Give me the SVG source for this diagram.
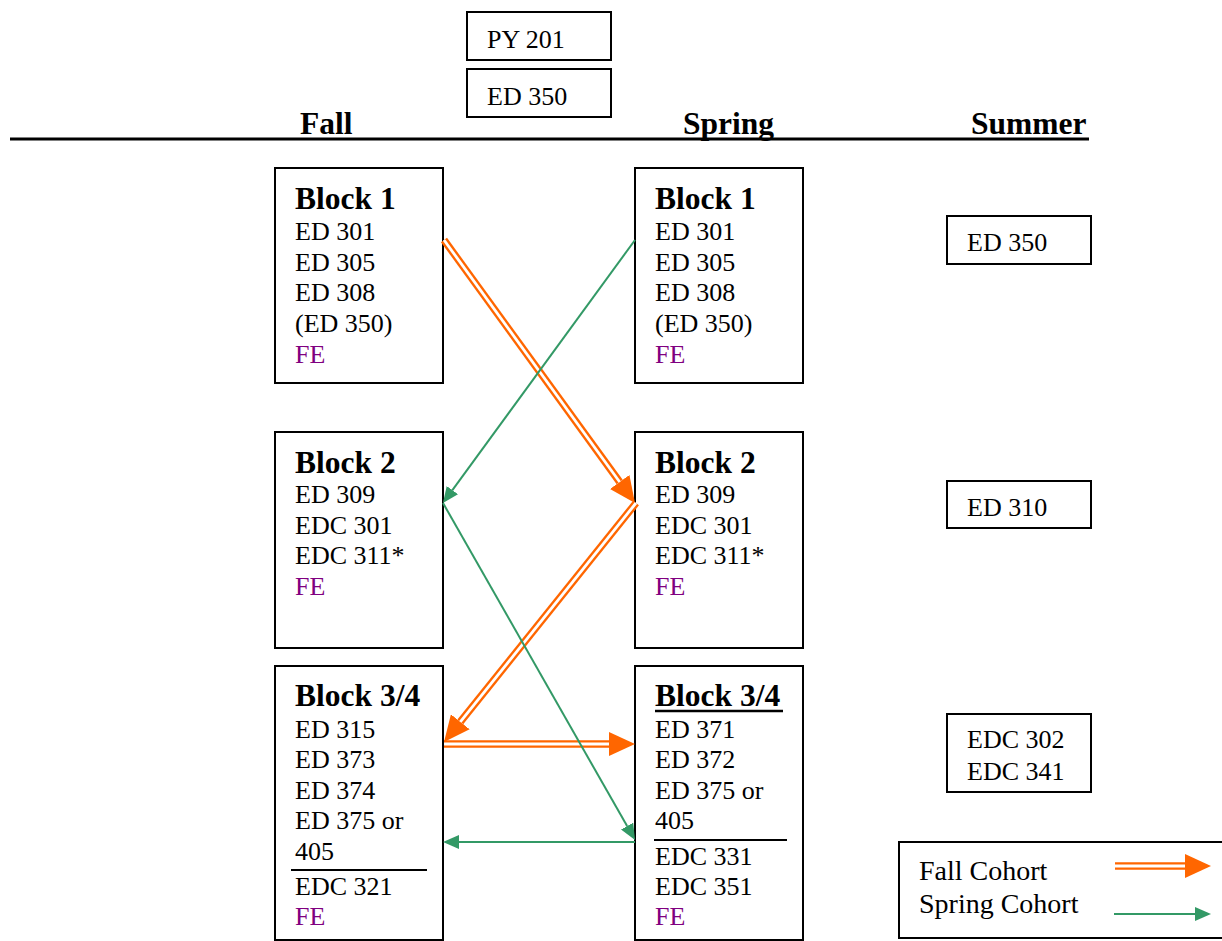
<svg xmlns="http://www.w3.org/2000/svg" width="1222" height="941" viewBox="0 0 1222 941">
<style>
text{font-family:"Liberation Serif","Times New Roman",serif;fill:#000}
.b{font-size:26px}
.h{font-size:31.5px;font-weight:bold}
.fe{fill:#800080}
.lg{font-size:28px}
.box{fill:#fff;stroke:#000;stroke-width:2}
.sep{stroke:#000;stroke-width:2}
.or{stroke:#FF6600;stroke-width:7.5;fill:none}
.wi{stroke:#fff;stroke-width:2.8;fill:none}
.gr{stroke:#339966;stroke-width:2;fill:none}
</style>
<defs>
<marker id="oh" markerUnits="userSpaceOnUse" markerWidth="26" markerHeight="24" viewBox="0 0 26 24" refX="0" refY="12" orient="auto"><path d="M0,0 L26,12 L0,24 z" fill="#FF6600"/></marker>
<marker id="gh" markerUnits="userSpaceOnUse" markerWidth="16" markerHeight="14" viewBox="0 0 16 14" refX="0" refY="7" orient="auto"><path d="M0,0 L16,7 L0,14 z" fill="#339966"/></marker>
</defs>
<rect width="1222" height="941" fill="#fff"/>

<g id="py201"><rect class="box" x="467" y="12" width="144" height="48"/><text class="b" x="487" y="48">PY 201</text></g>
<g id="ed350top"><rect class="box" x="467" y="69" width="144" height="48"/><text class="b" x="487" y="105">ED 350</text></g>

<g id="header">
<line x1="10" y1="139" x2="1089" y2="139" stroke="#000" stroke-width="3.2"/>
<text class="h" x="300" y="134">Fall</text>
<text class="h" x="683" y="134">Spring</text>
<text class="h" x="971" y="134">Summer</text>
</g>

<g id="fall1"><rect class="box" x="275" y="168" width="168" height="215"/>
<text class="h" x="295" y="209">Block 1</text>
<text class="b" x="295" y="240">ED 301</text>
<text class="b" x="295" y="271">ED 305</text>
<text class="b" x="295" y="301">ED 308</text>
<text class="b" x="295" y="332">(ED 350)</text>
<text class="b fe" x="295" y="363">FE</text></g>

<g id="spring1"><rect class="box" x="635" y="168" width="168" height="215"/>
<text class="h" x="655" y="209">Block 1</text>
<text class="b" x="655" y="240">ED 301</text>
<text class="b" x="655" y="271">ED 305</text>
<text class="b" x="655" y="301">ED 308</text>
<text class="b" x="655" y="332">(ED 350)</text>
<text class="b fe" x="655" y="363">FE</text></g>

<g id="fall2"><rect class="box" x="275" y="432" width="168" height="216"/>
<text class="h" x="295" y="473">Block 2</text>
<text class="b" x="295" y="503">ED 309</text>
<text class="b" x="295" y="534">EDC 301</text>
<text class="b" x="295" y="564">EDC 311*</text>
<text class="b fe" x="295" y="595">FE</text></g>

<g id="spring2"><rect class="box" x="635" y="432" width="168" height="216"/>
<text class="h" x="655" y="473">Block 2</text>
<text class="b" x="655" y="503">ED 309</text>
<text class="b" x="655" y="534">EDC 301</text>
<text class="b" x="655" y="564">EDC 311*</text>
<text class="b fe" x="655" y="595">FE</text></g>

<g id="fall34"><rect class="box" x="275" y="666" width="168" height="274"/>
<text class="h" x="295" y="706">Block 3/4</text>
<text class="b" x="295" y="738">ED 315</text>
<text class="b" x="295" y="768">ED 373</text>
<text class="b" x="295" y="799">ED 374</text>
<text class="b" x="295" y="829">ED 375 or</text>
<text class="b" x="295" y="860">405</text>
<line class="sep" x1="291" y1="870" x2="427" y2="870"/>
<text class="b" x="295" y="895">EDC 321</text>
<text class="b fe" x="295" y="925">FE</text></g>

<g id="spring34"><rect class="box" x="635" y="666" width="168" height="274"/>
<text class="h" x="655" y="706">Block 3/4</text>
<line x1="655" y1="711" x2="783" y2="711" stroke="#000" stroke-width="2.7"/>
<text class="b" x="655" y="738">ED 371</text>
<text class="b" x="655" y="768">ED 372</text>
<text class="b" x="655" y="799">ED 375 or</text>
<text class="b" x="655" y="829">405</text>
<line class="sep" x1="654" y1="840" x2="787" y2="840"/>
<text class="b" x="655" y="865">EDC 331</text>
<text class="b" x="655" y="895">EDC 351</text>
<text class="b fe" x="655" y="925">FE</text></g>

<g id="sum350"><rect class="box" x="947" y="216" width="144" height="48"/><text class="b" x="967" y="251">ED 350</text></g>
<g id="sum310"><rect class="box" x="947" y="481" width="144" height="47"/><text class="b" x="967" y="516">ED 310</text></g>
<g id="sum302"><rect class="box" x="947" y="714" width="144" height="78"/><text class="b" x="967" y="748">EDC 302</text><text class="b" x="967" y="780">EDC 341</text></g>

<g id="connectors">
<path class="or" d="M444,240 L619.7,482" marker-end="url(#oh)"/>
<path class="wi" d="M444,240 L619.7,482"/>
<path class="or" d="M636,503 L460.3,721.8" marker-end="url(#oh)"/>
<path class="wi" d="M636,503 L460.3,721.8"/>
<path class="or" d="M444,744 L609,744" marker-end="url(#oh)"/>
<path class="wi" d="M444,744 L609,744"/>
<path class="gr" d="M635,240 L452.4,490.1" marker-end="url(#gh)"/>
<path class="gr" d="M443,503 L627.1,826.1" marker-end="url(#gh)"/>
<path class="gr" d="M635,842 L459,842" marker-end="url(#gh)"/>
</g>

<g id="legend">
<rect class="box" x="899" y="842" width="330" height="96"/>
<text class="lg" x="919" y="880">Fall Cohort</text>
<text class="lg" x="919" y="913">Spring Cohort</text>
<path class="or" d="M1115,866 L1185,866" marker-end="url(#oh)"/>
<path class="wi" d="M1115,866 L1185,866"/>
<path class="gr" d="M1114,914 L1195,914" marker-end="url(#gh)"/>
</g>
</svg>
